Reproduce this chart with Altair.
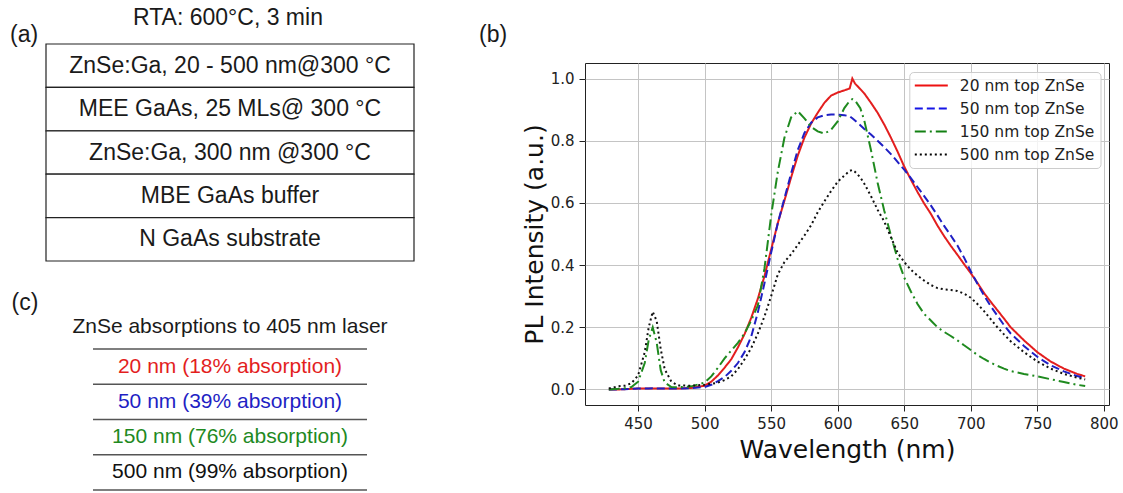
import altair as alt
import pandas as pd

# ---------------- data ----------------
stack_layers = [
    "ZnSe:Ga, 20 - 500 nm@300 °C",
    "MEE GaAs, 25 MLs@ 300 °C",
    "ZnSe:Ga, 300 nm @300 °C",
    "MBE GaAs buffer",
    "N GaAs substrate",
]
absorption_rows = [
    "20 nm (18% absorption)",
    "50 nm (39% absorption)",
    "150 nm (76% absorption)",
    "500 nm (99% absorption)",
]
absorption_colors = ["#e31e1e", "#1f1fc4", "#1f8a1f", "#111111"]

series_names = ["20 nm top ZnSe", "50 nm top ZnSe", "150 nm top ZnSe", "500 nm top ZnSe"]
series_colors = ["#ee1111", "#1515e6", "#128012", "#000000"]
series_dashes = [[1, 0], [8, 4], [11, 4, 2, 4], [2, 3]]

wavelength = [428, 435, 440, 445, 450, 455, 458, 461, 464, 467, 470, 475, 480, 490, 500,
              505, 510, 515, 520, 525, 530, 535, 540, 545, 550, 555, 560, 565, 570, 575,
              580, 585, 590, 595, 600, 605, 609, 611, 613, 617, 620, 625, 630, 635, 640,
              645, 650, 655, 660, 665, 670, 675, 680, 685, 690, 695, 700, 705, 710, 715,
              720, 725, 730, 740, 750, 760, 770, 780, 786]

pl_20nm = [0.000, 0.000, 0.001, 0.002, 0.003, 0.003, 0.003, 0.003, 0.003, 0.003,
           0.003, 0.003, 0.003, 0.005, 0.012, 0.025, 0.045, 0.070, 0.097, 0.135,
           0.178, 0.230, 0.292, 0.365, 0.450, 0.535, 0.608, 0.682, 0.752, 0.810,
           0.855, 0.890, 0.922, 0.945, 0.955, 0.962, 0.968, 1.000, 0.984, 0.966,
           0.952, 0.922, 0.890, 0.852, 0.810, 0.765, 0.717, 0.675, 0.635, 0.598,
           0.565, 0.527, 0.493, 0.462, 0.433, 0.403, 0.374, 0.343, 0.310, 0.282,
           0.255, 0.228, 0.200, 0.158, 0.120, 0.090, 0.067, 0.050, 0.042]
pl_50nm = [0.000, 0.000, 0.001, 0.002, 0.003, 0.003, 0.003, 0.004, 0.003, 0.003,
           0.003, 0.003, 0.003, 0.004, 0.008, 0.015, 0.027, 0.040, 0.060, 0.085,
           0.120, 0.170, 0.248, 0.342, 0.440, 0.535, 0.615, 0.695, 0.770, 0.825,
           0.858, 0.875, 0.882, 0.884, 0.884, 0.882, 0.879, 0.872, 0.865, 0.850,
           0.838, 0.820, 0.800, 0.779, 0.757, 0.732, 0.707, 0.680, 0.651, 0.622,
           0.592, 0.560, 0.526, 0.495, 0.463, 0.424, 0.380, 0.340, 0.302, 0.268,
           0.237, 0.207, 0.180, 0.140, 0.105, 0.078, 0.058, 0.043, 0.036]
pl_150nm = [0.000, 0.002, 0.004, 0.008, 0.025, 0.085, 0.160, 0.200, 0.150, 0.062,
            0.022, 0.008, 0.007, 0.010, 0.022, 0.042, 0.070, 0.100, 0.125, 0.150,
            0.180, 0.222, 0.270, 0.390, 0.560, 0.700, 0.810, 0.875, 0.895, 0.872,
            0.845, 0.830, 0.823, 0.835, 0.862, 0.905, 0.928, 0.934, 0.930, 0.905,
            0.865, 0.770, 0.665, 0.575, 0.495, 0.420, 0.360, 0.315, 0.275, 0.243,
            0.222, 0.200, 0.185, 0.172, 0.158, 0.142, 0.127, 0.111, 0.098, 0.086,
            0.076, 0.067, 0.059, 0.050, 0.042, 0.033, 0.024, 0.015, 0.011]
pl_500nm = [0.003, 0.010, 0.012, 0.020, 0.045, 0.120, 0.200, 0.250, 0.220, 0.130,
            0.065, 0.025, 0.013, 0.012, 0.015, 0.018, 0.022, 0.030, 0.042, 0.065,
            0.097, 0.133, 0.180, 0.235, 0.300, 0.370, 0.410, 0.435, 0.465, 0.495,
            0.528, 0.570, 0.605, 0.638, 0.668, 0.688, 0.703, 0.706, 0.700, 0.682,
            0.662, 0.622, 0.578, 0.540, 0.490, 0.440, 0.410, 0.385, 0.366, 0.350,
            0.336, 0.326, 0.322, 0.320, 0.317, 0.308, 0.295, 0.275, 0.252, 0.226,
            0.200, 0.177, 0.155, 0.120, 0.090, 0.067, 0.050, 0.038, 0.032]

x_ticks = [450, 500, 550, 600, 650, 700, 750, 800]
y_ticks = [0.0, 0.2, 0.4, 0.6, 0.8, 1.0]

LEFT_FONT = "Liberation Sans"
RIGHT_FONT = "DejaVu Sans"

one = pd.DataFrame({"k": [0]})

# ---------------- panel (a): layer stack ----------------
A_W, A_H = 368, 217
n_a = len(stack_layers)
stack_df = pd.DataFrame({
    "label": stack_layers,
    "top": list(range(n_a)),
    "bottom": [i + 1 for i in range(n_a)],
    "mid": [i + 0.5 for i in range(n_a)],
})
ya_scale = alt.Scale(domain=[0, n_a], reverse=True, nice=False)

a_rect = alt.Chart(stack_df).mark_rect(fill="white", stroke="#222222", strokeWidth=1.2).encode(
    x=alt.value(0), x2=alt.value(A_W),
    y=alt.Y("top:Q", scale=ya_scale, axis=None), y2="bottom:Q",
)
a_text = alt.Chart(stack_df).mark_text(font=LEFT_FONT, fontSize=23, color="#1a1a1a",
                                      baseline="middle", align="center").encode(
    x=alt.value(A_W / 2), y=alt.Y("mid:Q", scale=ya_scale, axis=None), text="label:N",
)
a_title = alt.Chart(one).mark_text(font=LEFT_FONT, fontSize=23, color="#1a1a1a",
                                  baseline="alphabetic", align="center").encode(
    x=alt.value(182), y=alt.value(-19), text=alt.value("RTA: 600°C, 3 min"),
)
a_label = alt.Chart(one).mark_text(font=LEFT_FONT, fontSize=23, color="#1a1a1a",
                                  baseline="alphabetic", align="left").encode(
    x=alt.value(-36), y=alt.value(-2.5), text=alt.value("(a)"),
)
a_chart = alt.layer(a_rect, a_text, a_title, a_label).properties(width=A_W, height=A_H)

# ---------------- panel (c): absorption table ----------------
C_W, C_H = 368, 141
n_c = len(absorption_rows)
abs_df = pd.DataFrame({"label": absorption_rows, "mid": [i + 0.5 for i in range(n_c)]})
edge_df = pd.DataFrame({"edge": list(range(n_c + 1))})
yc_scale = alt.Scale(domain=[0, n_c], reverse=True, nice=False)

c_rules = alt.Chart(edge_df).mark_rule(color="#555555", strokeWidth=1.5).encode(
    x=alt.value(47), x2=alt.value(321), y=alt.Y("edge:Q", scale=yc_scale, axis=None),
)
c_text = alt.Chart(abs_df).mark_text(font=LEFT_FONT, fontSize=21, baseline="middle",
                                    align="center").encode(
    x=alt.value(C_W / 2), y=alt.Y("mid:Q", scale=yc_scale, axis=None), text="label:N",
    color=alt.Color("label:N", scale=alt.Scale(domain=absorption_rows, range=absorption_colors),
                    legend=None),
)
c_title = alt.Chart(one).mark_text(font=LEFT_FONT, fontSize=21, color="#1a1a1a",
                                  baseline="alphabetic", align="center").encode(
    x=alt.value(184), y=alt.value(-15.7), text=alt.value("ZnSe absorptions to 405 nm laser"),
)
c_label = alt.Chart(one).mark_text(font=LEFT_FONT, fontSize=23, color="#1a1a1a",
                                  baseline="alphabetic", align="left").encode(
    x=alt.value(-34.5), y=alt.value(-39.5), text=alt.value("(c)"),
)
c_chart = alt.layer(c_rules, c_text, c_title, c_label).properties(width=C_W, height=C_H)

left_col = alt.vconcat(a_chart, c_chart, spacing=29)

# ---------------- panel (b): PL spectra ----------------
P_W, P_H = 524, 342
frames = []
for name, vals in zip(series_names, [pl_20nm, pl_50nm, pl_150nm, pl_500nm]):
    frames.append(pd.DataFrame({"wavelength": wavelength, "intensity": vals, "series": name}))
spec_df = pd.concat(frames, ignore_index=True)

axis_common = dict(
    grid=True, gridColor="#c4c4c4", gridWidth=1, domain=False,
    ticks=True, tickColor="#222222", tickSize=6, tickWidth=1,
    labelFont=RIGHT_FONT, labelFontSize=15, labelColor="#222222", labelPadding=5,
    titleFont=RIGHT_FONT, titleFontSize=25, titleFontWeight="normal", titleColor="#111111",
    labelFlush=False,
)

lines = alt.Chart(spec_df).mark_line(strokeWidth=2).encode(
    x=alt.X("wavelength:Q", scale=alt.Scale(domain=[410.1, 803.9], nice=False, zero=False),
            axis=alt.Axis(values=x_ticks, format="d", title="Wavelength (nm)",
                          titlePadding=6, **axis_common)),
    y=alt.Y("intensity:Q", scale=alt.Scale(domain=[-0.05, 1.05], nice=False, zero=False),
            axis=alt.Axis(values=y_ticks, format=".1f", title="PL Intensity (a.u.)",
                          titlePadding=3, **axis_common)),
    color=alt.Color("series:N", scale=alt.Scale(domain=series_names, range=series_colors),
                    legend=None),
    strokeDash=alt.StrokeDash("series:N", scale=alt.Scale(domain=series_names, range=series_dashes),
                              legend=None),
)

legend_box = alt.Chart(one).mark_rect(fill="white", fillOpacity=0.8, stroke="#cccccc",
                                      strokeWidth=1, cornerRadius=4).encode(
    x=alt.value(324.8), x2=alt.value(516), y=alt.value(9.5), y2=alt.value(105.5),
)
legend_layers = []
for i, (name, col, dash) in enumerate(zip(series_names, series_colors, series_dashes)):
    yy = 22.5 + 23 * i
    legend_layers.append(
        alt.Chart(one).mark_rule(strokeWidth=2, color=col, strokeDash=dash).encode(
            x=alt.value(329.8), x2=alt.value(362.8), y=alt.value(yy))
    )
    legend_layers.append(
        alt.Chart(one).mark_text(font=RIGHT_FONT, fontSize=15.5, color="#222222",
                                 align="left", baseline="middle").encode(
            x=alt.value(374.8), y=alt.value(yy), text=alt.value(name))
    )

line_chart = alt.layer(lines, legend_box, *legend_layers).properties(
    width=P_W, height=P_H,
    view=alt.ViewBackground(stroke="#222222", strokeWidth=1),
)

b_label = alt.Chart(one).mark_text(font=LEFT_FONT, fontSize=23, color="#1a1a1a",
                                  baseline="alphabetic", align="left").encode(
    x=alt.value(-106), y=alt.value(-2.5), text=alt.value("(b)"),
).properties(width=P_W, height=18)

right_col = alt.vconcat(b_label, line_chart, spacing=0)

chart = alt.hconcat(left_col, right_col, spacing=64).properties(
    padding={"left": 10, "top": 7, "right": 2, "bottom": 0},
    background="white",
).configure_view(strokeWidth=0)

chart.save("out.html", embed_options={"renderer": "svg", "actions": False})
